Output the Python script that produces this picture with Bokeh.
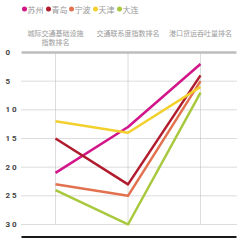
from bokeh.plotting import figure
from bokeh.models import Range1d
from bokeh.core.properties import value
from bokeh.embed import file_html
from bokeh.resources import INLINE

# ---- data ----
categories = ["城际交通基础设施\n指数排名", "交通联系度指数排名", "港口货运吞吐量排名"]
cities = ["苏州", "青岛", "宁波", "天津", "大连"]
suzhou = [21, 13, 2]
qingdao = [15, 23, 4]
ningbo = [23, 25, 5]
tianjin = [12, 14, 6]
dalian = [24, 30, 7]
series = [suzhou, qingdao, ningbo, tianjin, dalian]
colors = ["#d2168a", "#b01c2e", "#e2724f", "#f2d12e", "#a8c93d"]
y_ticks = [0, 5, 10, 15, 20, 25, 30]
y_tick_labels = ["0", "5", "1 0", "1 5", "2 0", "2 5", "3 0"]

# ---- layout (pixel mapping) ----
X0, DX = 55.0, 72.5       # px of first category, px per category
Y0, DY = 52.0, 5.733      # px of rank 0, px per rank unit
W = H = 240

def xd(px):
    return (px - X0) / DX

def yd(py):
    return (py - Y0) / DY

p = figure(width=W, height=H, output_backend="svg", toolbar_location=None,
           x_range=Range1d(xd(0), xd(W)), y_range=Range1d(yd(H), yd(0)),
           min_border=0, min_border_left=0, min_border_right=0,
           min_border_top=0, min_border_bottom=0)
p.axis.visible = False
p.grid.visible = False
p.outline_line_color = None
p.background_fill_color = "white"
p.border_fill_color = "white"

xl, xr = xd(21), xd(236)
n = len(categories)
xs = list(range(n))

# dotted grid lines
grid_vals = [v for v in y_ticks if v != 0]
p.segment(x0=[xl] * len(grid_vals), x1=[xr] * len(grid_vals), y0=grid_vals, y1=grid_vals,
          line_color="#b8b8b8", line_width=1, line_dash="1 1")
# vertical dotted lines at categories
p.segment(x0=xs, x1=xs, y0=[0] * n, y1=[max(y_ticks)] * n,
          line_color="#b8b8b8", line_width=1, line_dash="1 1")
# top solid line at rank 0
p.segment(x0=[xl], x1=[xr], y0=[0], y1=[0], line_color="#bdbdbd", line_width=2.5)
# bottom black line
p.segment(x0=[xl], x1=[xr], y0=[yd(236.5)], y1=[yd(236.5)], line_color="#1a1a1a", line_width=2)

# series lines
for vals, c in zip(series, colors):
    p.line(xs, vals, line_color=c, line_width=2.5, line_join="round")

# y tick labels
p.text(x=[xd(5)] * len(y_ticks), y=y_ticks, text=y_tick_labels,
       text_font=value("Roboto"), text_font_style="bold", text_font_size="8px",
       text_color="#444444", text_align="left", text_baseline="middle")

# category labels
lines_x, lines_y, lines_t = [], [], []
for i, cat in enumerate(categories):
    for j, t in enumerate(cat.split("\n")):
        lines_x.append(i)
        lines_y.append(yd(32 + 9.5 * j))
        lines_t.append(t)
p.text(x=lines_x, y=lines_y, text=lines_t, text_font=value("Noto Sans CJK SC"),
       text_font_size="7px", text_color="#9a9a9a", text_align="center", text_baseline="middle")

# legend
leg_px = [24, 48, 71, 95, 119]
leg_x = [xd(v) for v in leg_px]
leg_y = [yd(8.5)] * len(cities)
p.scatter(x=leg_x, y=leg_y, size=5, fill_color=colors, line_color=None)
p.text(x=[xd(v + 3) for v in leg_px], y=leg_y, text=cities, text_font=value("Noto Sans CJK SC"),
       text_font_size="8px", text_color="#999999", text_align="left", text_baseline="middle")

open("out.html", "w").write(file_html(p, INLINE))
